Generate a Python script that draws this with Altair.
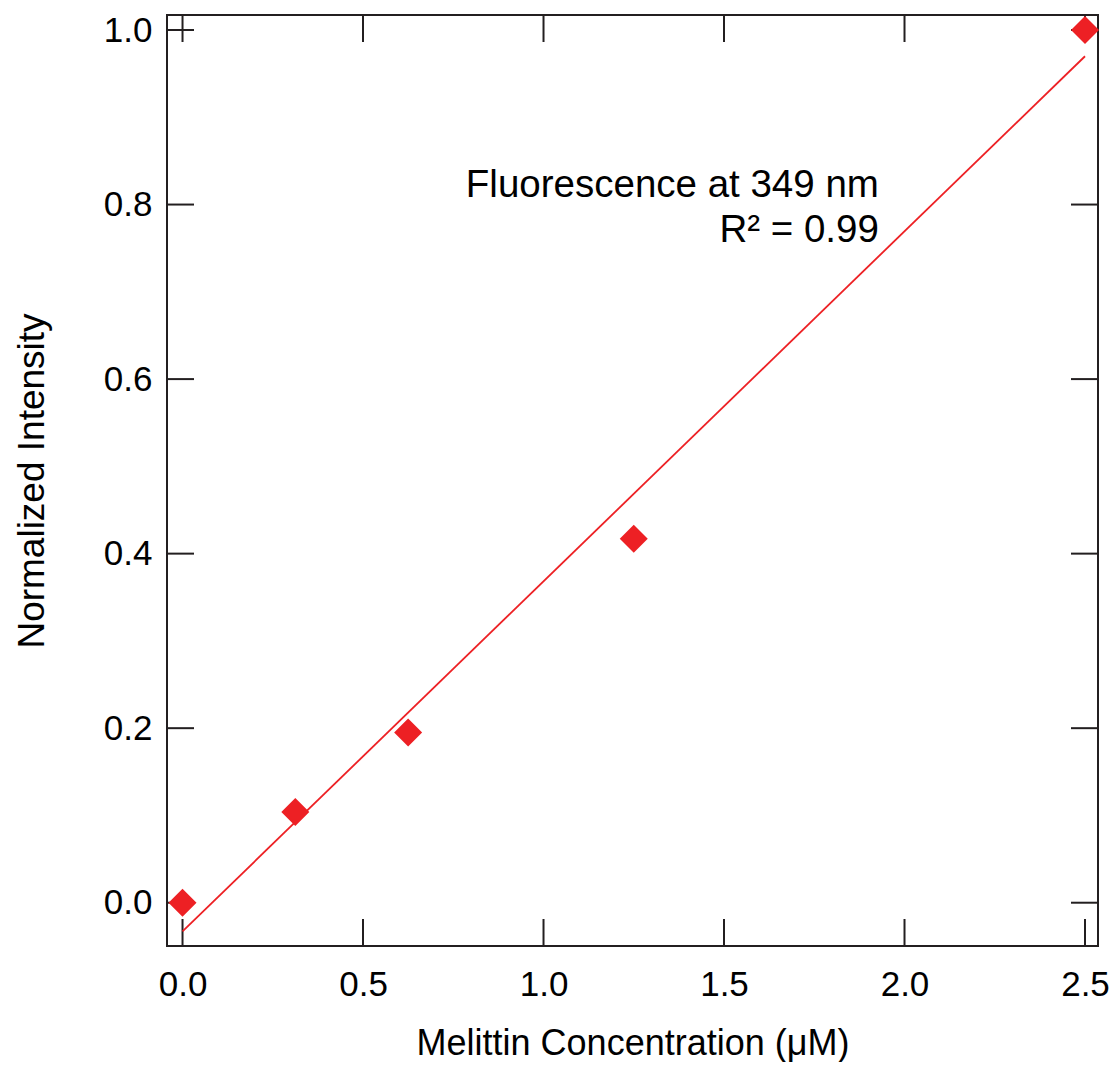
import altair as alt
import pandas as pd

# Data
conc = [0.0, 0.3125, 0.625, 1.25, 2.5]
intensity = [0.0, 0.104, 0.195, 0.417, 1.0]
x_ticks = [0.0, 0.5, 1.0, 1.5, 2.0, 2.5]
y_ticks = [0.0, 0.2, 0.4, 0.6, 0.8, 1.0]
annot_lines = ["Fluorescence at 349 nm", "R\u00b2 = 0.99"]

RED = "#ED2024"
INK = "#231F20"
FONT = "Liberation Sans"
W = 931
H = 931
TL = 27

df = pd.DataFrame({"x": conc, "y": intensity})
xt = pd.DataFrame({"v": x_ticks})
yt = pd.DataFrame({"v": y_ticks})

xscale = alt.Scale(domain=[-0.043, 2.536], nice=False, zero=False)
yscale = alt.Scale(domain=[-0.0496, 1.0172], nice=False, zero=False)

xaxis = alt.Axis(
    title="Melittin Concentration (\u03bcM)",
    values=x_ticks, format=".1f", ticks=False, tickSize=0, domain=False, grid=False,
    labelFontSize=35, labelPadding=21, labelColor="black", labelFont=FONT,
    titleFontSize=36, titleFont=FONT, titleFontWeight="normal", titleColor="black",
    titlePadding=24,
)
yaxis = alt.Axis(
    title="Normalized Intensity",
    values=y_ticks, format=".1f", ticks=False, tickSize=0, domain=False, grid=False,
    labelFontSize=35, labelPadding=15, labelColor="black", labelFont=FONT,
    titleFontSize=37, titleFont=FONT, titleFontWeight="normal", titleColor="black",
    titlePadding=52,
)

base = alt.Chart(df)

fit = base.transform_regression("x", "y", method="linear").mark_line(
    color=RED, strokeWidth=1.8
).encode(
    x=alt.X("x:Q", scale=xscale, axis=xaxis),
    y=alt.Y("y:Q", scale=yscale, axis=yaxis),
)

pts = base.mark_point(shape="diamond", filled=True, size=784, color=RED, opacity=1).encode(
    x=alt.X("x:Q", scale=xscale),
    y=alt.Y("y:Q", scale=yscale),
)

tick_bottom = alt.Chart(xt).mark_rule(color=INK, strokeWidth=2).encode(
    x=alt.X("v:Q", scale=xscale), y=alt.value(H), y2=alt.value(H - TL)
)
tick_top = alt.Chart(xt).mark_rule(color=INK, strokeWidth=2).encode(
    x=alt.X("v:Q", scale=xscale), y=alt.value(0), y2=alt.value(TL)
)
tick_left = alt.Chart(yt).mark_rule(color=INK, strokeWidth=2).encode(
    y=alt.Y("v:Q", scale=yscale), x=alt.value(0), x2=alt.value(TL)
)
tick_right = alt.Chart(yt).mark_rule(color=INK, strokeWidth=2).encode(
    y=alt.Y("v:Q", scale=yscale), x=alt.value(W), x2=alt.value(W - TL)
)

txt1 = alt.Chart(df).transform_aggregate(n="count()").mark_text(
    text=annot_lines[0], align="right", baseline="alphabetic", fontSize=38.5, font=FONT, color="black"
).encode(x=alt.datum(1.929, scale=xscale), y=alt.datum(0.8087, scale=yscale))
txt2 = alt.Chart(df).transform_aggregate(n="count()").mark_text(
    text=annot_lines[1], align="right", baseline="alphabetic", fontSize=38.5, font=FONT, color="black"
).encode(x=alt.datum(1.929, scale=xscale), y=alt.datum(0.7574, scale=yscale))

chart = alt.layer(
    tick_bottom, tick_top, tick_left, tick_right, fit, pts, txt1, txt2
).properties(
    width=W, height=H,
    autosize=alt.AutoSizeParams(type="none"),
    padding={"left": 159, "top": 7, "right": 14, "bottom": 116},
).configure(
    background="white",
    view=alt.ViewConfig(stroke=INK, strokeWidth=2),
)

chart.save("out.html", embed_options={"renderer": "svg", "actions": False})
